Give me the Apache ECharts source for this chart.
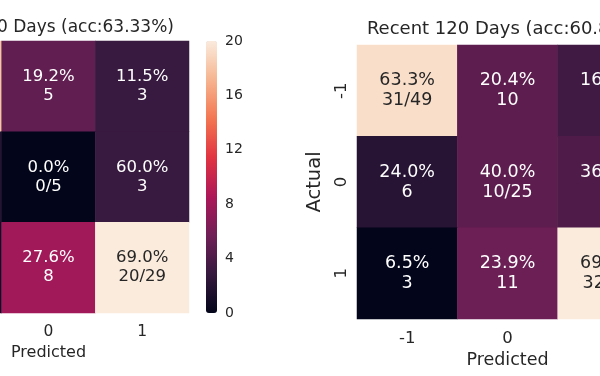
<!DOCTYPE html>
<html>
<head>
<meta charset="utf-8">
<script src="https://cdn.jsdelivr.net/npm/echarts@6/dist/echarts.min.js"></script>
<style>
html, body { margin: 0; padding: 0; background: #fff; }
#container { width: 600px; height: 376px; }
</style>
</head>
<body>
<div id="container"></div>
<script>
var classes = ['-1', '0', '1'];
// rows = actual, cols = predicted
var counts60 = [[18, 5, 3], [2, 0, 3], [1, 8, 20]];
var counts120 = [[31, 10, 8], [6, 10, 9], [3, 11, 32]];
var title60 = 'Recent 60 Days (acc:63.33%)';
var title120 = 'Recent 120 Days (acc:60.83%)';
var cbarMin = 0, cbarMax = 20, cbarStep = 4;
var rocket = ['#03051a', '#35193e', '#701f57', '#ad1759', '#e13342', '#f37651', '#f6b48f', '#faebdd'];

var FONT = 'DejaVu Sans';
var TXT = '#262626';

function cells(m, vmin, vmax) {
    var out = [];
    m.forEach(function (row, i) {
        var total = row.reduce(function (a, b) { return a + b; }, 0);
        row.forEach(function (v, j) {
            var pct = (v / total * 100).toFixed(1) + '%';
            var second = i === j ? v + '/' + total : String(v);
            var light = (v - vmin) / (vmax - vmin) > 0.75;
            out.push({
                value: [j, i, v],
                label: { formatter: pct + '\n' + second, color: light ? TXT : '#ffffff' }
            });
        });
    });
    return out;
}

function flatMin(m) { return Math.min.apply(null, [].concat.apply([], m)); }
function flatMax(m) { return Math.max.apply(null, [].concat.apply([], m)); }

var min60 = flatMin(counts60), max60 = flatMax(counts60);
var min120 = flatMin(counts120), max120 = flatMax(counts120);

function catX(gi, fs, margin, nameFs, gap) {
    return {
        type: 'category', gridIndex: gi, data: classes, position: 'bottom',
        axisLine: { show: false }, axisTick: { show: false }, splitLine: { show: false },
        axisLabel: { fontFamily: FONT, fontSize: fs, color: TXT, margin: margin },
        name: 'Predicted', nameLocation: 'middle', nameGap: gap,
        nameTextStyle: { fontFamily: FONT, fontSize: nameFs, color: TXT }
    };
}
function catY(gi, fs, margin, nameFs, gap) {
    return {
        type: 'category', gridIndex: gi, data: classes, inverse: true,
        axisLine: { show: false }, axisTick: { show: false }, splitLine: { show: false },
        axisLabel: { fontFamily: FONT, fontSize: fs, color: TXT, margin: margin, rotate: 90 },
        name: 'Actual', nameLocation: 'middle', nameGap: gap, nameRotate: 90,
        nameTextStyle: { fontFamily: FONT, fontSize: nameFs, color: TXT }
    };
}

var dom = document.getElementById('container');
var myChart = echarts.init(dom, null, { renderer: 'canvas' });

var option = {
    animation: false,
    backgroundColor: '#ffffff',
    title: [
        {
            text: title60, left: 48, top: 19, textAlign: 'center', padding: 0,
            textStyle: { fontFamily: FONT, fontSize: 17, fontWeight: 'normal', color: TXT }
        },
        {
            text: title120, left: 506, top: 20, textAlign: 'center', padding: 0,
            textStyle: { fontFamily: FONT, fontSize: 18, fontWeight: 'normal', color: TXT }
        }
    ],
    grid: [
        { left: -92, top: 41, width: 281, height: 272, outerBoundsMode: 'none', containLabel: false },
        { left: 357, top: 45, width: 301, height: 274, outerBoundsMode: 'none', containLabel: false },
        { left: 206, top: 41, width: 11, height: 272, outerBoundsMode: 'none', containLabel: false }   // colorbar ticks
    ],
    xAxis: [
        catX(0, 15.5, 11, 16, 31),
        catX(1, 16.5, 11, 17.5, 30),
        { type: 'value', gridIndex: 2, show: false }
    ],
    yAxis: [
        catY(0, 15.5, 7, 17, 31),
        catY(1, 16.5, 7, 19.5, 31),
        {
            type: 'value', gridIndex: 2, position: 'right',
            min: cbarMin, max: cbarMax, interval: cbarStep,
            axisLine: { show: false }, axisTick: { show: false }, splitLine: { show: false },
            axisLabel: { fontFamily: FONT, fontSize: 14, color: TXT, margin: 8 }
        }
    ],
    visualMap: [
        {
            type: 'continuous', min: min60, max: max60, seriesIndex: 0,
            inRange: { color: rocket },
            left: 206, top: 41, itemWidth: 11, itemHeight: 272, padding: 0,
            calculable: false, hoverLink: false, text: null, showLabel: false
        },
        {
            type: 'continuous', min: min120, max: max120, seriesIndex: 1,
            inRange: { color: rocket }, show: false
        }
    ],
    series: [
        {
            type: 'heatmap', xAxisIndex: 0, yAxisIndex: 0,
            data: cells(counts60, min60, max60),
            label: { show: true, fontFamily: FONT, fontSize: 16.5, lineHeight: 19 },
            itemStyle: { borderWidth: 0 },
            emphasis: { disabled: true }
        },
        {
            type: 'heatmap', xAxisIndex: 1, yAxisIndex: 1,
            data: cells(counts120, min120, max120),
            label: { show: true, fontFamily: FONT, fontSize: 17.5, lineHeight: 20 },
            itemStyle: { borderWidth: 0 },
            emphasis: { disabled: true }
        }
    ]
};

myChart.setOption(option);
window.addEventListener('resize', myChart.resize);
</script>
</body>
</html>
